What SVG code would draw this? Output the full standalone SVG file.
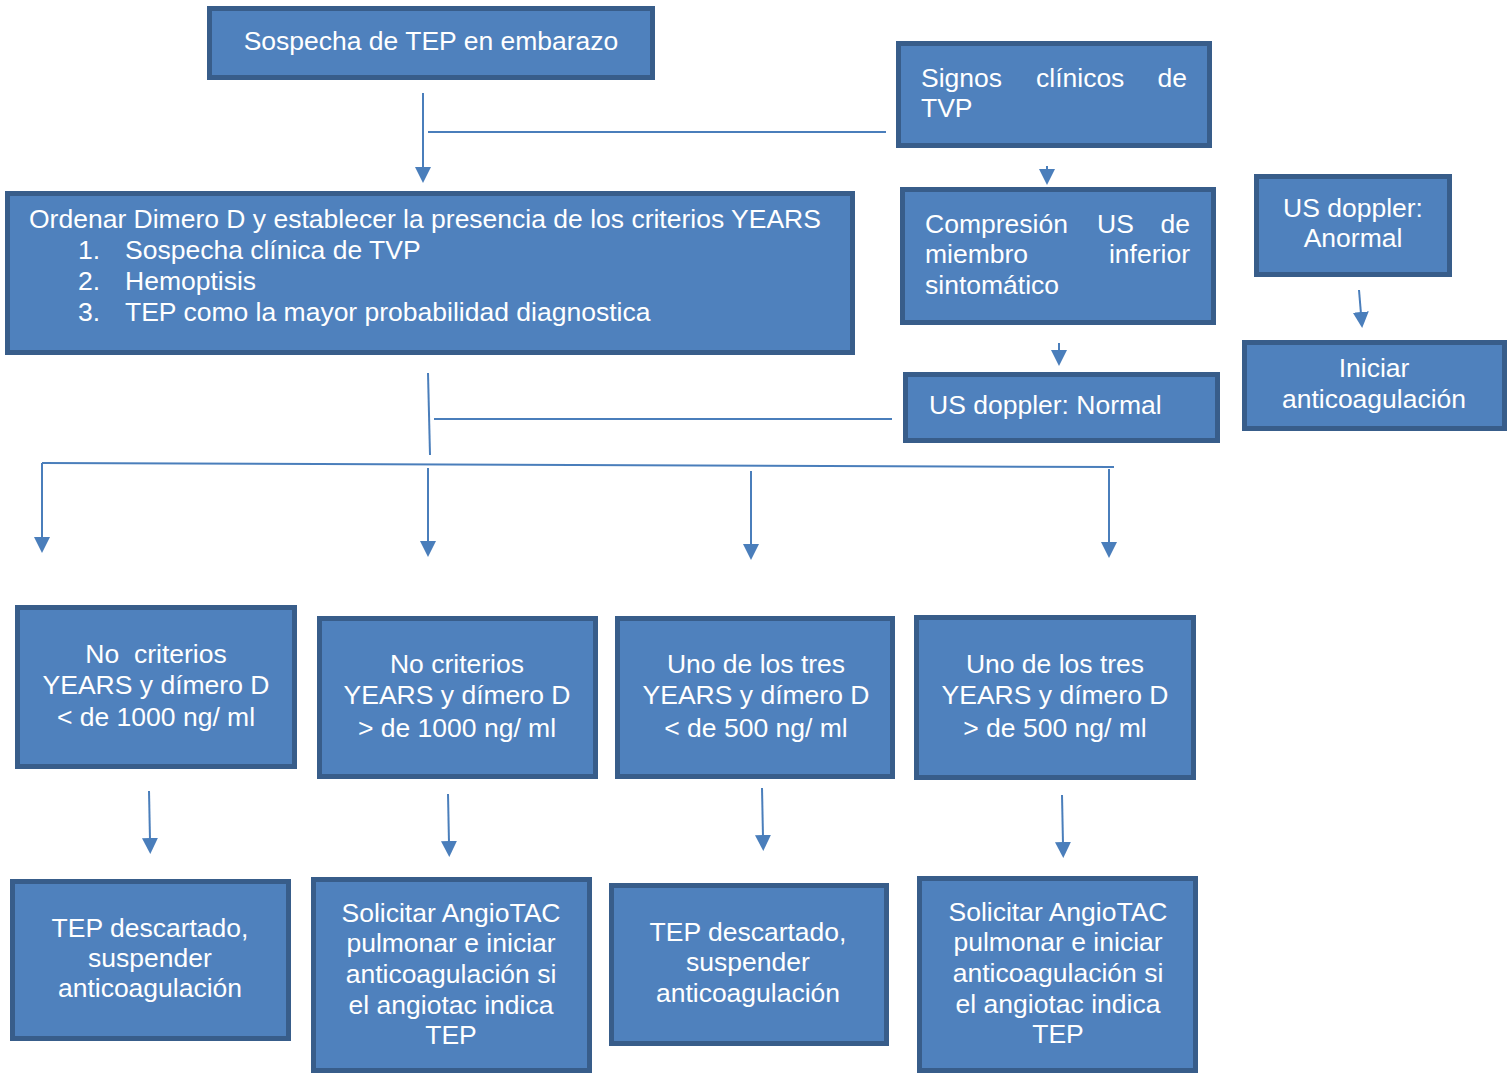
<svg xmlns="http://www.w3.org/2000/svg" width="1508" height="1074" viewBox="0 0 1508 1074">
<style>
.box{fill:#4f81bd;stroke:#385d8a;stroke-width:5}
.t{font-family:"Liberation Sans",Arial,sans-serif;font-size:26.5px;fill:#ffffff}
.c{text-anchor:middle}
.e{text-anchor:end}
.ln{fill:none;stroke:#4a7ebb;stroke-width:2}
</style>
<defs>
<marker id="arr" markerUnits="userSpaceOnUse" markerWidth="16" markerHeight="16" viewBox="0 0 16 16" refX="2" refY="8" orient="auto">
<path d="M0,0 L16,8 L0,16 z" fill="#4a7ebb"/>
</marker>
</defs>
<rect width="1508" height="1074" fill="#ffffff"/>
<g id="connectors">
<path class="ln" d="M423,93 V169" marker-end="url(#arr)"/>
<path class="ln" d="M428,132 H886"/>
<path class="ln" d="M1047,166 V171" marker-end="url(#arr)"/>
<path class="ln" d="M1059,343 V352" marker-end="url(#arr)"/>
<path class="ln" d="M434,419 H892"/>
<path class="ln" d="M428,373 L430,455"/>
<path class="ln" d="M42,463 L1114,467"/>
<path class="ln" d="M42,463 V539" marker-end="url(#arr)"/>
<path class="ln" d="M428,468 V543" marker-end="url(#arr)"/>
<path class="ln" d="M751,471 V546" marker-end="url(#arr)"/>
<path class="ln" d="M1109,469 V544" marker-end="url(#arr)"/>
<path class="ln" d="M1359,290 L1361,314" marker-end="url(#arr)"/>
<path class="ln" d="M149,791 L150,840" marker-end="url(#arr)"/>
<path class="ln" d="M448,794 L449,843" marker-end="url(#arr)"/>
<path class="ln" d="M762,788 L763,837" marker-end="url(#arr)"/>
<path class="ln" d="M1062,795 L1063,844" marker-end="url(#arr)"/>
</g>
<g id="n1">
<rect class="box" x="209.5" y="8.5" width="443" height="69"/>
<text class="t c" x="431" y="50">Sospecha de TEP en embarazo</text>
</g>
<g id="n2">
<rect class="box" x="7.5" y="193.5" width="845" height="159"/>
<text class="t" x="29" y="228">Ordenar Dimero D y establecer la presencia de los criterios YEARS</text>
<text class="t" x="78" y="259">1.</text><text class="t" x="125" y="259">Sospecha clínica de TVP</text>
<text class="t" x="78" y="290">2.</text><text class="t" x="125" y="290">Hemoptisis</text>
<text class="t" x="78" y="321">3.</text><text class="t" x="125" y="321">TEP como la mayor probabilidad diagnostica</text>
</g>
<g id="n3">
<rect class="box" x="898.5" y="43.5" width="311" height="102"/>
<text class="t" x="921" y="87">Signos</text>
<text class="t" x="1036" y="87">clínicos</text>
<text class="t e" x="1187" y="87">de</text>
<text class="t" x="921" y="117">TVP</text>
</g>
<g id="n4">
<rect class="box" x="902.5" y="189.5" width="311" height="133"/>
<text class="t" x="925" y="233">Compresión</text>
<text class="t" x="1097" y="233">US</text>
<text class="t e" x="1190" y="233">de</text>
<text class="t" x="925" y="263">miembro</text>
<text class="t e" x="1190" y="263">inferior</text>
<text class="t" x="925" y="294">sintomático</text>
</g>
<g id="n5">
<rect class="box" x="905.5" y="374.5" width="312" height="66"/>
<text class="t" x="929" y="414">US doppler: Normal</text>
</g>
<g id="n6">
<rect class="box" x="1256.5" y="176.5" width="193" height="98"/>
<text class="t c" x="1353" y="217">US doppler:</text>
<text class="t c" x="1353" y="247">Anormal</text>
</g>
<g id="n7">
<rect class="box" x="1244.5" y="342.5" width="260" height="86"/>
<text class="t c" x="1374" y="377">Iniciar</text>
<text class="t c" x="1374" y="408">anticoagulación</text>
</g>
<g id="nA">
<rect class="box" x="17.5" y="607.5" width="277" height="159"/>
<text class="t c" x="156" y="663" xml:space="preserve">No  criterios</text>
<text class="t c" x="156" y="694">YEARS y dímero D</text>
<text class="t c" x="156" y="726">&lt; de 1000 ng/ ml</text>
</g>
<g id="nB">
<rect class="box" x="319.5" y="618.5" width="276" height="158"/>
<text class="t c" x="457" y="673">No criterios</text>
<text class="t c" x="457" y="704">YEARS y dímero D</text>
<text class="t c" x="457" y="737">&gt; de 1000 ng/ ml</text>
</g>
<g id="nC">
<rect class="box" x="617.5" y="618.5" width="275" height="158"/>
<text class="t c" x="756" y="673">Uno de los tres</text>
<text class="t c" x="756" y="704">YEARS y dímero D</text>
<text class="t c" x="756" y="737">&lt; de 500 ng/ ml</text>
</g>
<g id="nD">
<rect class="box" x="916.5" y="617.5" width="277" height="160"/>
<text class="t c" x="1055" y="673">Uno de los tres</text>
<text class="t c" x="1055" y="704">YEARS y dímero D</text>
<text class="t c" x="1055" y="737">&gt; de 500 ng/ ml</text>
</g>
<g id="nE">
<rect class="box" x="12.5" y="881.5" width="276" height="157"/>
<text class="t c" x="150" y="937">TEP descartado,</text>
<text class="t c" x="150" y="967">suspender</text>
<text class="t c" x="150" y="997">anticoagulación</text>
</g>
<g id="nF">
<rect class="box" x="313.5" y="879.5" width="276" height="191"/>
<text class="t c" x="451" y="922">Solicitar AngioTAC</text>
<text class="t c" x="451" y="952">pulmonar e iniciar</text>
<text class="t c" x="451" y="983">anticoagulación si</text>
<text class="t c" x="451" y="1014">el angiotac indica</text>
<text class="t c" x="451" y="1044">TEP</text>
</g>
<g id="nG">
<rect class="box" x="611.5" y="885.5" width="275" height="158"/>
<text class="t c" x="748" y="941">TEP descartado,</text>
<text class="t c" x="748" y="971">suspender</text>
<text class="t c" x="748" y="1002">anticoagulación</text>
</g>
<g id="nH">
<rect class="box" x="919.5" y="878.5" width="276" height="192"/>
<text class="t c" x="1058" y="921">Solicitar AngioTAC</text>
<text class="t c" x="1058" y="951">pulmonar e iniciar</text>
<text class="t c" x="1058" y="982">anticoagulación si</text>
<text class="t c" x="1058" y="1013">el angiotac indica</text>
<text class="t c" x="1058" y="1043">TEP</text>
</g>
</svg>
